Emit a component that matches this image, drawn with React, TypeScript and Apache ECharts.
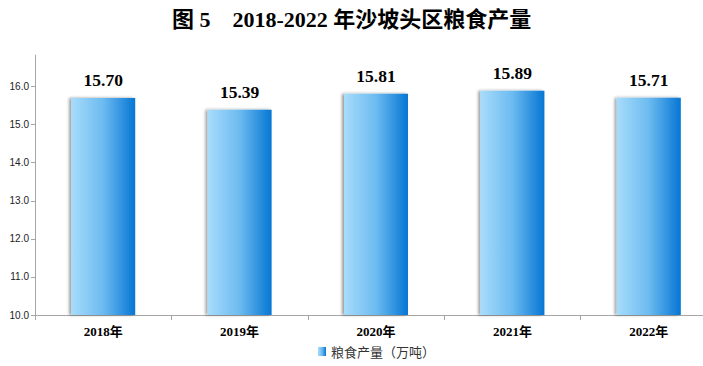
import React, { useEffect, useRef } from "react";
import * as echarts from "echarts";

const categories = ["2018年", "2019年", "2020年", "2021年", "2022年"];
const values = [15.7, 15.39, 15.81, 15.89, 15.71];
const seriesName = "粮食产量（万吨）";
const titleText = "图 5    2018-2022 年沙坡头区粮食产量";

export default function App() {
  const ref = useRef<HTMLDivElement>(null);
  useEffect(() => {
    document.body.style.margin = "0";
    const chart = echarts.init(ref.current!, null, { renderer: "svg" });
    const grad = new echarts.graphic.LinearGradient(0, 0, 1, 0, [
      { offset: 0, color: "#a8dcfb" },
      { offset: 0.5, color: "#6cbbf0" },
      { offset: 1, color: "#0676d4" },
    ]);
    chart.setOption({
      animation: false,
      backgroundColor: "#ffffff",
      title: {
        text: titleText,
        left: 167,
        top: 3,
        textStyle: {
          fontFamily: "'Liberation Serif', 'Noto Sans CJK SC', serif",
          fontSize: 22,
          fontWeight: "bold",
          color: "#000",
        },
      },
      legend: {
        bottom: 3,
        left: 313,
        itemWidth: 8,
        itemHeight: 9,
        itemGap: 6,
        textStyle: {
          fontFamily: "'Noto Sans CJK SC', sans-serif",
          fontSize: 13,
          color: "#333",
        },
        data: [{ name: seriesName, icon: "rect" }],
      },
      grid: { left: 35, top: 55, width: 682, height: 260, containLabel: false },
      xAxis: {
        type: "category",
        data: categories,
        axisLine: { lineStyle: { color: "#a6a6a6", width: 1 } },
        axisTick: { show: true, alignWithLabel: false, length: 5, lineStyle: { color: "#a6a6a6" } },
        axisLabel: {
          margin: 10,
          fontFamily: "'Liberation Serif', 'Noto Sans CJK SC', serif",
          fontWeight: "bold",
          fontSize: 13,
          color: "#000",
        },
      },
      yAxis: {
        type: "value",
        min: 10,
        max: 16.83,
        interval: 1,
        splitLine: { show: false },
        axisLine: { show: true, lineStyle: { color: "#a6a6a6", width: 1 } },
        axisTick: { show: true, length: 4, lineStyle: { color: "#a6a6a6" } },
        axisLabel: {
          showMaxLabel: false,
          margin: 6,
          fontFamily: "'Liberation Sans', Arial, sans-serif",
          fontSize: 10,
          color: "#222",
          formatter: (v: number) => (Number.isInteger(Math.round(v * 100) / 100) ? v.toFixed(1) : ""),
        },
      },
      series: [
        {
          name: seriesName,
          type: "bar",
          data: values,
          barWidth: 64,
          itemStyle: {
            color: grad,
            shadowColor: "rgba(0,0,0,0.4)",
            shadowBlur: 3,
            shadowOffsetX: -2,
            shadowOffsetY: 0,
          },
          label: {
            show: true,
            position: "top",
            distance: 9,
            formatter: (p: any) => p.value.toFixed(2),
            fontFamily: "'Liberation Serif', serif",
            fontWeight: "bold",
            fontSize: 17.5,
            color: "#000",
          },
        },
      ],
    });
    return () => chart.dispose();
  }, []);
  return (
    <div style={{ position: "fixed", left: 0, top: 0, width: 703, height: 366, overflow: "hidden", background: "#fff" }}>
      <div ref={ref} style={{ position: "absolute", left: 0, top: 0, width: 720, height: 366 }} />
    </div>
  );
}
